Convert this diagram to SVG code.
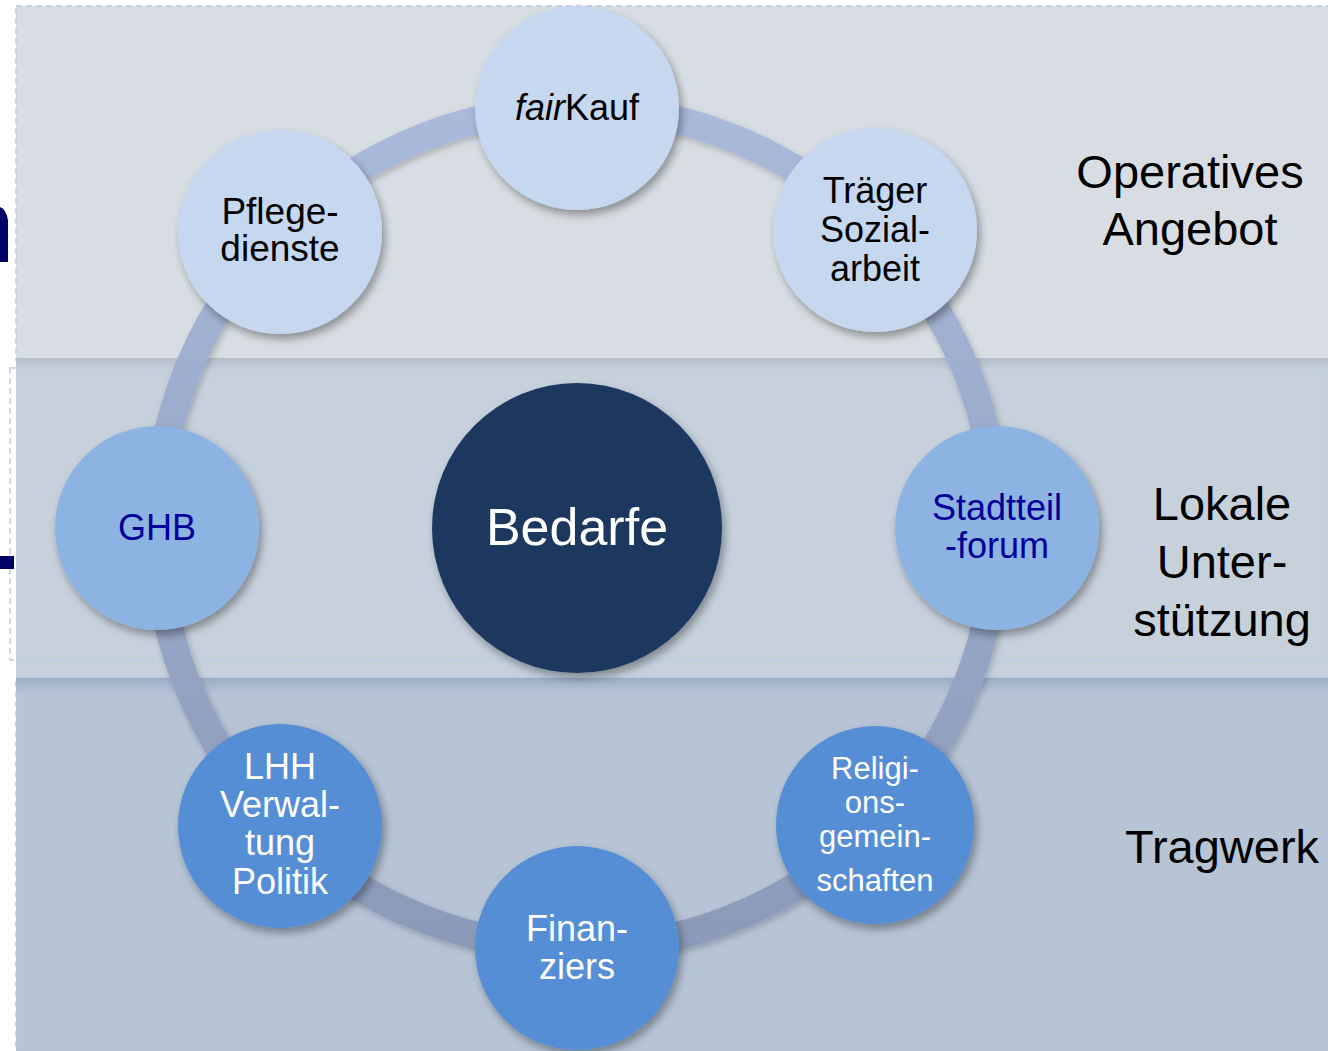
<svg xmlns="http://www.w3.org/2000/svg" width="1328" height="1051" viewBox="0 0 1328 1051">
<defs>
<style>
.t{font-family:"Liberation Sans",Arial,sans-serif;text-anchor:middle}
.dk{fill:#000}
.nv{fill:#000099}
.wh{fill:#fff}
.band{stroke:#b9cde9;stroke-width:1.5;stroke-dasharray:6 4}
.top{fill:#c5d8f0}
.mid{fill:#8db3e2}
.bot{fill:#558ed5}
</style>
<linearGradient id="ringG" gradientUnits="userSpaceOnUse" x1="0" y1="100" x2="0" y2="960">
<stop offset="0" stop-color="#aabada"/>
<stop offset="0.5" stop-color="#98a8c8"/>
<stop offset="1" stop-color="#8b9ab8"/>
</linearGradient>
<linearGradient id="sh1" x1="0" y1="0" x2="0" y2="1">
<stop offset="0" stop-color="#b3bdca"/>
<stop offset="1" stop-color="#c6d1dc"/>
</linearGradient>
<linearGradient id="sh2" x1="0" y1="0" x2="0" y2="1">
<stop offset="0" stop-color="#9cadc6"/>
<stop offset="1" stop-color="#b6c4d6"/>
</linearGradient>
<filter id="ds" x="-20%" y="-20%" width="150%" height="150%">
<feDropShadow dx="3" dy="5" stdDeviation="4" flood-color="#000" flood-opacity="0.35"/>
</filter>
<filter id="rs" x="-10%" y="-10%" width="120%" height="120%">
<feDropShadow dx="2" dy="3" stdDeviation="3" flood-color="#000" flood-opacity="0.2"/>
</filter>
</defs>
<rect x="0" y="0" width="1328" height="1051" fill="#fff"/>
<g id="bands">
<rect x="16" y="6" width="1320" height="354" fill="#d8dde3" class="band"/>
<rect x="16" y="358" width="1320" height="320" fill="#c6d1dc"/>
<rect x="16" y="358" width="1320" height="12" fill="url(#sh1)"/>
<rect x="10" y="368" width="1316" height="292" fill="none" class="band"/>
<rect x="16" y="677" width="1320" height="380" fill="#b6c4d6" class="band"/>
<rect x="16" y="678" width="1320" height="16" fill="url(#sh2)"/>
</g>
<g id="fragments" fill="#000066">
<path d="M0 207 Q6 209 8 220 L8 262 L0 262 Z"/>
<rect x="0" y="556" width="14" height="13"/>
</g>
<g id="connectors">
<circle cx="577" cy="528" r="420" fill="none" stroke="url(#ringG)" stroke-width="28" filter="url(#rs)"/>
</g>
<g id="center">
<circle cx="577" cy="528" r="145" fill="#1a375e" filter="url(#ds)"/>
<text class="t wh" x="577" y="545" font-size="52">Bedarfe</text>
</g>
<g id="fairkauf">
<circle cx="577" cy="108" r="102" class="top" filter="url(#ds)"/>
<text class="t dk" x="577" y="120" font-size="36"><tspan font-style="italic">fair</tspan>Kauf</text>
</g>
<g id="traeger">
<circle cx="875" cy="230" r="102" class="top" filter="url(#ds)"/>
<text class="t dk" font-size="36"><tspan x="875" y="203">Träger</tspan><tspan x="875" y="242">Sozial-</tspan><tspan x="875" y="281">arbeit</tspan></text>
</g>
<g id="stadtteil">
<circle cx="997" cy="528" r="102" class="mid" filter="url(#ds)"/>
<text class="t nv" font-size="36"><tspan x="997" y="520">Stadtteil</tspan><tspan x="997" y="558">-forum</tspan></text>
</g>
<g id="religion">
<circle cx="875" cy="825" r="99" class="bot" filter="url(#ds)"/>
<text class="t wh" font-size="31"><tspan x="875" y="779">Religi-</tspan><tspan x="875" y="813">ons-</tspan><tspan x="875" y="847">gemein-</tspan><tspan x="875" y="891">schaften</tspan></text>
</g>
<g id="finanziers">
<circle cx="577" cy="948" r="102" class="bot" filter="url(#ds)"/>
<text class="t wh" font-size="36"><tspan x="577" y="941">Finan-</tspan><tspan x="577" y="979">ziers</tspan></text>
</g>
<g id="lhh">
<circle cx="280" cy="826" r="102" class="bot" filter="url(#ds)"/>
<text class="t wh" font-size="36"><tspan x="280" y="779">LHH</tspan><tspan x="280" y="817">Verwal-</tspan><tspan x="280" y="855">tung</tspan><tspan x="280" y="894">Politik</tspan></text>
</g>
<g id="ghb">
<circle cx="157" cy="528" r="102" class="mid" filter="url(#ds)"/>
<text class="t nv" x="157" y="540" font-size="36">GHB</text>
</g>
<g id="pflege">
<circle cx="280" cy="232" r="102" class="top" filter="url(#ds)"/>
<text class="t dk" font-size="37"><tspan x="280" y="224">Pflege-</tspan><tspan x="280" y="261">dienste</tspan></text>
</g>
<g id="labels">
<text class="t dk" font-size="47"><tspan x="1190" y="188">Operatives</tspan><tspan x="1190" y="245">Angebot</tspan></text>
<text class="t dk" font-size="47"><tspan x="1222" y="520">Lokale</tspan><tspan x="1222" y="578">Unter-</tspan><tspan x="1222" y="636">stützung</tspan></text>
<text class="t dk" font-size="47" x="1222" y="863">Tragwerk</text>
</g>
</svg>
